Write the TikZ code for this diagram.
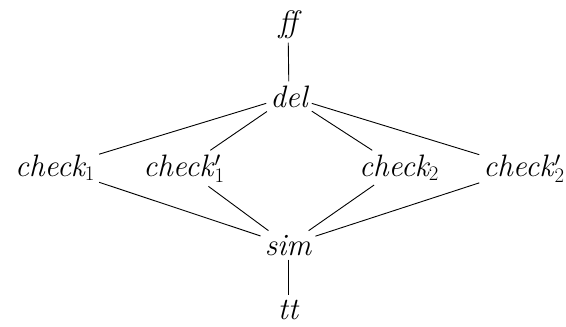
\documentclass[tikz,border=0pt]{standalone}
\begin{document}
\begin{tikzpicture}[x=1pt,y=-1pt,
  lbl/.style={inner sep=4pt, anchor=base, font=\fontsize{31}{37}\selectfont\itshape},
  edge/.style={line width=0.9pt}]
\useasboundingbox (0,0) rectangle (566,327);
\node[lbl] (ff) at (288,32) {ff};
\node[lbl] (del) at (289,107) {del};
\node[lbl] (c1) at (55,176) {check$_1$};
\node[lbl] (c1p) at (184,176) {check\/$'_1$};
\node[lbl] (c2) at (399,176) {check$_2$};
\node[lbl] (c2p) at (524,176) {check\/$'_2$};
\node[lbl] (sim) at (288,255) {sim};
\node[lbl] (tt) at (288,319) {tt};
\draw[edge] (ff) -- (del);
\draw[edge] (del) -- (c1);
\draw[edge] (del) -- (c1p);
\draw[edge] (del) -- (c2);
\draw[edge] (del) -- (c2p);
\draw[edge] (c1) -- (sim);
\draw[edge] (c1p) -- (sim);
\draw[edge] (c2) -- (sim);
\draw[edge] (c2p) -- (sim);
\draw[edge] (sim) -- (tt);
\end{tikzpicture}
\end{document}
